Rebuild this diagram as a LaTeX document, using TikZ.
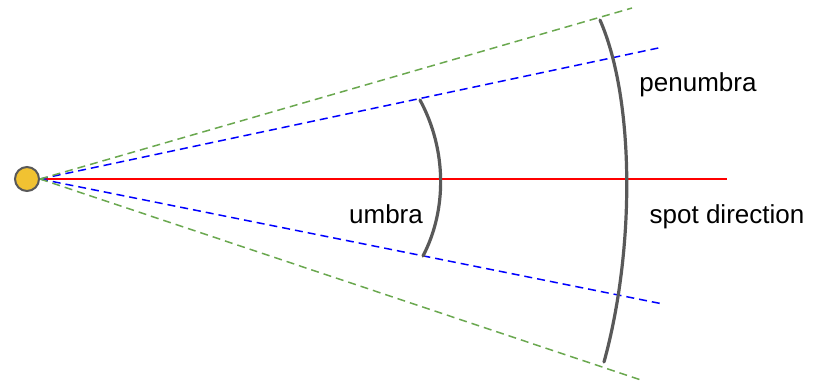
\documentclass[tikz,border=0pt]{standalone}
\usepackage{fontspec}
\setmainfont{Liberation Sans}
\usetikzlibrary{positioning,calc}
\definecolor{bulb}{HTML}{F1C232}
\definecolor{rim}{HTML}{595959}
\definecolor{pgreen}{HTML}{6AA84F}

\begin{document}
\begin{tikzpicture}[x=1pt,y=-1pt,font=\fontsize{26}{30}\selectfont,
  ray/.style={line width=1.5pt,dash pattern=on 8pt off 5pt},
  cone/.style={line width=3.2pt,rim,line cap=round},
  lbl/.style={anchor=base,inner sep=0pt}]
\useasboundingbox (0,0) rectangle (819,389);
\node[circle,draw=rim,fill=bulb,line width=2pt,minimum size=24pt,inner sep=0pt] (light) at (27,179) {};
\coordinate (dir) at (727,179);
\coordinate (u1) at (663,47);
\coordinate (u2) at (663,304);
\coordinate (p1) at (632,8);
\coordinate (p2) at (644,381);
\draw[red,line width=1.5pt] (light.east)--(dir);
\draw[ray,blue] (light.east)--(u1);
\draw[ray,blue] (light.east)--(u2);
\draw[ray,pgreen] (light.east)--(p1);
\draw[ray,pgreen] (light.east)--(p2);
\draw[cone] (420,100) .. controls (447,150) and (447,210) .. (423,256);
\draw[cone] (600,20) .. controls (635,100) and (635,250) .. (604,362);
\node[lbl] (umbra) at (386,223) {umbra};
\node[lbl] (penumbra) at (698,91) {penumbra};
\node[lbl] (spot) at (727,223) {spot direction};
\end{tikzpicture}
\end{document}
